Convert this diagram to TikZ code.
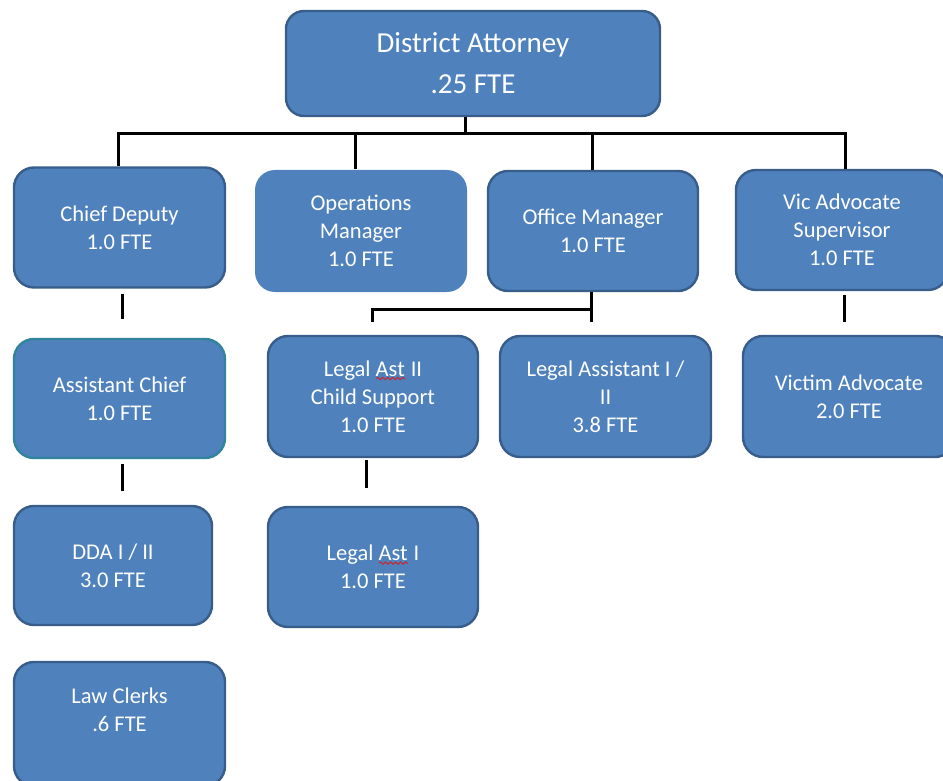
\documentclass[tikz,border=0pt]{standalone}
\usepackage{fontspec}
\setmainfont{Carlito}
\usetikzlibrary{decorations.pathmorphing}
\definecolor{boxblue}{HTML}{4F81BD}
\definecolor{boxedge}{HTML}{385D8A}
\definecolor{tealedge}{HTML}{31849B}
\definecolor{spellred}{HTML}{D02020}
% word with a red wavy underline
\newcommand{\spellmark}[1]{\setbox0\hbox{#1}\rlap{\usebox0}%
  \raisebox{-4pt}{\tikz[x=1pt,y=1pt]\draw[sharp corners,spellred,line width=0.9pt,decorate,
    decoration={snake,amplitude=1.2pt,segment length=5pt}] (0,0) -- (\wd0,0);}}
\begin{document}
\begin{tikzpicture}[x=1pt,y=-1pt,
    post/.style={fill=boxblue,draw=boxedge,line width=2.4pt,rounded corners=20pt,
      text=white,align=center,inner sep=0pt,minimum width=211pt,minimum height=120pt,
      font=\fontsize{22.5}{28}\selectfont},
    link/.style={line width=3pt,line cap=butt}]
  \useasboundingbox (0,0) rectangle (943,781);
  % Head of office
  \node[post,minimum width=374pt,minimum height=105pt,rounded corners=18pt,
    font=\fontsize{29}{41}\selectfont] (da) at (473,63.5) {District Attorney\\.25 FTE};
  % First row
  \node[post] (cd) at (119.5,227.5) {Chief Deputy\\1.0 FTE};
  \node[post,draw=none,minimum width=212pt,minimum height=122pt] (ops) at (361,231) {Operations\\Manager\\1.0 FTE};
  \node[post,minimum width=210pt] (om) at (593,231) {Office Manager\\1.0 FTE};
  \node[post,minimum width=212pt] (vas) at (842,230) {Vic Advocate\\Supervisor\\1.0 FTE};
  % Second row
  \node[post,draw=tealedge,minimum height=119pt] (ac) at (119.5,398.5) {Assistant Chief\\1.0 FTE};
  \node[post,minimum width=210pt,minimum height=121pt] (la2) at (373,396.5) {Legal \spellmark{Ast} II\\Child Support\\1.0 FTE};
  \node[post,minimum height=121pt] (la12) at (605.5,396.5) {Legal Assistant I /\\II\\3.8 FTE};
  \node[post,minimum width=212pt,minimum height=121pt] (va) at (849,396.5) {Victim Advocate\\2.0 FTE};
  % Third row
  \node[post,minimum width=198pt,minimum height=119pt] (dda) at (113,565.5) {DDA I / II\\3.0 FTE};
  \node[post,minimum width=210pt] (la1) at (373,567) {Legal \spellmark{Ast} I\\1.0 FTE};
  \node[post,minimum height=124pt] (lc) at (119.5,724) {Law Clerks\\.6 FTE\\~};
  % Top bus
  \draw[link] (da.south) ++(-8,0) -- ++(0,16) coordinate (bus);
  \draw[link] (cd.north) ++(-1.5,0) |- (bus) -| ([xshift=3pt]vas.north);
  \draw[link] ([xshift=-6pt]ops.north) -- ([xshift=-6pt]ops.north |- bus);
  \draw[link] ([xshift=-1pt]om.north) -- ([xshift=-1pt]om.north |- bus);
  % Office manager split
  \draw[link,shorten >=13pt] ([xshift=-2pt]om.south) -- ([xshift=-2pt]om.south |- la12.north);
  \path ([xshift=-2pt]om.south) ++(0,17) coordinate (split);
  \draw[link,shorten >=13pt] (split) -| ([xshift=-1pt]la2.north);
  % Short stubs
  \draw[link,shorten <=5pt,shorten >=19pt] ([xshift=2.5pt]cd.south) -- ([xshift=2.5pt]cd.south |- ac.north);
  \draw[link,shorten <=5pt,shorten >=14pt] ([xshift=2.5pt]ac.south) -- ([xshift=2.5pt]ac.south |- dda.north);
  \draw[link,shorten <=4pt,shorten >=13pt] ([xshift=2pt]vas.south) -- ([xshift=2pt]vas.south |- va.north);
  \draw[link,shorten <=2pt,shorten >=18pt] ([xshift=-7pt]la2.south) -- ([xshift=-7pt]la2.south |- la1.north);
\end{tikzpicture}
\end{document}
